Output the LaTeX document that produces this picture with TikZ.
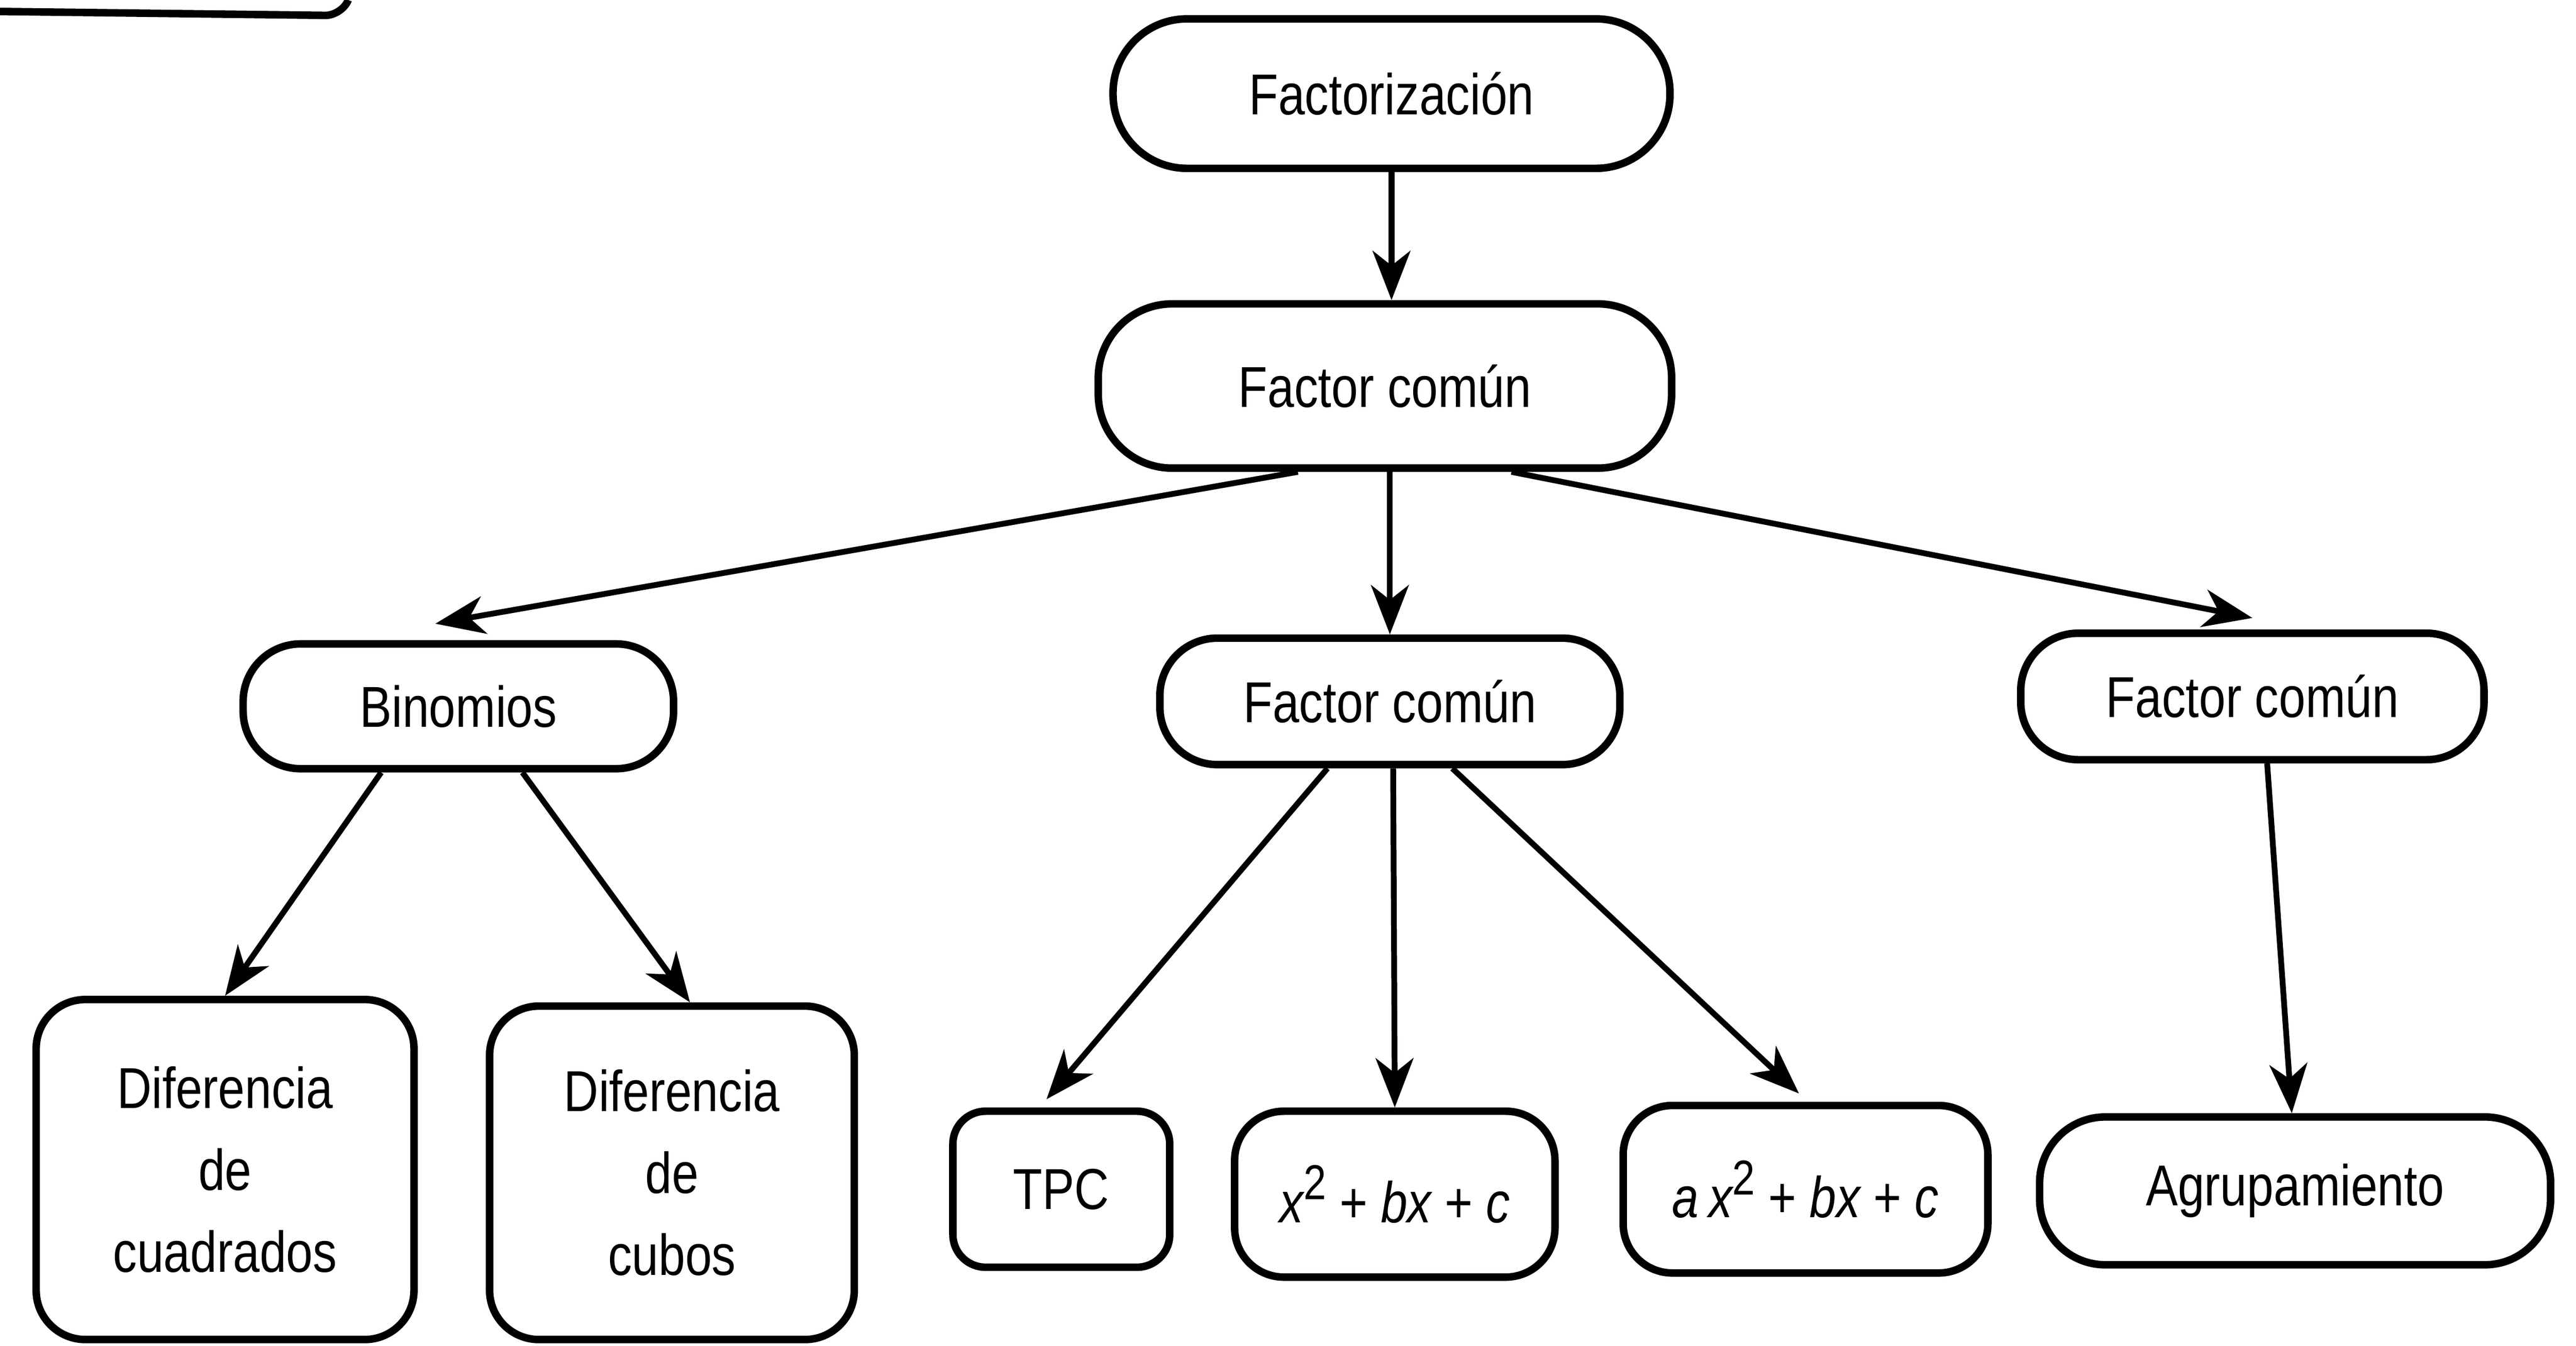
\documentclass[tikz,border=0pt]{standalone}
\usepackage{fontspec}
\setmainfont{Liberation Sans}[FakeStretch=0.83]
\usetikzlibrary{arrows.meta}

\begin{document}
\begin{tikzpicture}[
                      >={Stealth[length=3mm,width=2.3mm,inset=0.9mm]},
                      every node/.style={font=\fontsize{10}{14.2}\selectfont, align=center},
                      box/.style={draw, line width=1.3pt, fill=white, inner sep=0pt},
                      pill/.style={box, rounded corners=4.5mm},
                      mid/.style={box, rounded corners=3.5mm, minimum width=2.8cm, minimum height=0.77cm},
                      leaf/.style={box, rounded corners=3mm},
                      arr/.style={->, line width=1pt}
                  ]
                  \useasboundingbox (0,0) rectangle (15.68,-8.192);
                  % piece of a box cut off at the top
                  \draw[line width=1.3pt, rounded corners=1mm] (0,-0.07) -- (2.08,-0.095) -- (2.12,0);
                  \node[pill, minimum width=3.39cm, minimum height=0.91cm] at (8.47,-0.57) (fact) {Factorización};
                  \node[pill, minimum width=3.49cm, minimum height=1.0cm] at (8.43,-2.35) (fc) {Factor común};
                  \node[mid, minimum width=2.62cm, minimum height=0.76cm] at (2.79,-4.30) (bin) {Binomios};
                  \node[mid] at (8.46,-4.27) (fcm) {Factor común};
                  \node[mid, minimum width=2.82cm] at (13.71,-4.24) (fcr) {Factor común};
                  \node[leaf, minimum width=2.30cm, minimum height=2.07cm] at (1.37,-7.12) (dcua) {Diferencia\\de\\cuadrados};
                  \node[leaf, minimum width=2.22cm, minimum height=2.03cm] at (4.09,-7.14) (dcub) {Diferencia\\de\\cubos};
                  \node[leaf, rounded corners=2mm, minimum width=1.32cm, minimum height=0.95cm] at (6.46,-7.24) (tpc) {TPC};
                  \node[leaf, minimum width=1.95cm, minimum height=1.01cm] at (8.49,-7.27) (tri) {\itshape x\raisebox{0.75ex}{\upshape\fontsize{8.5}{8.5}\selectfont 2}\ {\upshape +}\ bx\ {\upshape +}\ c};
                  \node[leaf, minimum width=2.22cm, minimum height=1.02cm] at (10.99,-7.24) (atri) {\itshape a\,x\raisebox{0.75ex}{\upshape\fontsize{8.5}{8.5}\selectfont 2}\ {\upshape +}\ bx\ {\upshape +}\ c};
                  \node[leaf, rounded corners=4mm, minimum width=3.11cm, minimum height=0.90cm] at (13.97,-7.25) (agr) {Agrupamiento};
                  % \node[leaf] at (8.4,-6) {};
                  \draw[arr] (fact.south) -- (fact.south |- fc.north);
                  \draw[arr] ([xshift=-5.3mm]fc.south) -- ([xshift=-1.4mm,yshift=1mm]bin.north);
                  \draw[arr] (fc.south -| fcm.north) -- (fcm.north);
                  \draw[arr] ([xshift=7.7mm]fc.south) -- ([yshift=0.7mm]fcr.north);
                  \draw[arr] ([xshift=-4.7mm]bin.south) -- (dcua.north);
                  \draw[arr] ([xshift=3.9mm]bin.south) -- ([xshift=1.1mm]dcub.north);
                  \draw[arr] ([xshift=-3.8mm]fcm.south) -- ([xshift=-0.9mm,yshift=0.5mm]tpc.north);
                  \draw[arr] ([xshift=0.2mm]fcm.south) -- (tri.north);
                  \draw[arr] ([xshift=3.8mm]fcm.south) -- ([xshift=-0.4mm,yshift=0.5mm]atri.north);
                  \draw[arr] ([xshift=0.9mm]fcr.south) -- ([xshift=-0.2mm]agr.north);
              \end{tikzpicture}
\end{document}
